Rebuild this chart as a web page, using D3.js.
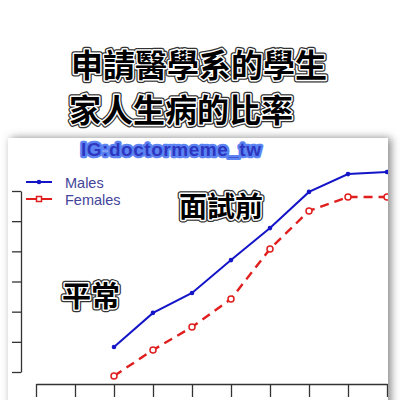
<!DOCTYPE html>
<html>
<head>
<meta charset="utf-8">
<script src="https://cdn.jsdelivr.net/npm/d3@7"></script>
<style>
  body { margin: 0; background: #fff; }
  svg { display: block; }
</style>
</head>
<body>
<div id="chart"></div>
<script>
// data (y axis has no visible labels, values in arbitrary %)
var xTicks = [0, 1, 2, 3, 4, 5, 6, 7, 8, 9];
var yTicks = [10, 20, 30, 40, 50, 60, 70];
var xIdx = [2, 3, 4, 5, 6, 7, 8, 9];
var males = [18.3, 29.6, 36.2, 47.1, 57.7, 69.7, 75.6, 76.3];
var females = [8.7, 17.3, 24.9, 34.2, 50.8, 63.4, 68.0, 68.0];
var titleLines = ["申請醫學系的學生", "家人生病的比率"];
var seriesNames = ["Males", "Females"];

var width = 400, height = 400;

var svg = d3.select("#chart")
  .append("svg")
  .attr("width", width)
  .attr("height", height);

var defs = svg.append("defs");
defs.append("filter")
  .attr("id", "shadow")
  .attr("x", "-10%").attr("y", "-10%")
  .attr("width", "130%").attr("height", "130%")
  .append("feDropShadow")
  .attr("dx", 3).attr("dy", 0)
  .attr("stdDeviation", 4)
  .attr("flood-color", "#666")
  .attr("flood-opacity", 0.8);
defs.append("clipPath")
  .attr("id", "cardclip")
  .append("rect")
  .attr("x", 8).attr("y", 138)
  .attr("width", 380).attr("height", 280);

// outlined meme text: dark outer ring, white ring, black fill
function memeText(g, txt, x, y, size) {
  [["#333", 5.5], ["#fff", 3]].forEach(function(s) {
    g.append("text")
      .attr("x", x).attr("y", y)
      .style("font-family", "'Noto Sans CJK TC', 'Noto Sans CJK SC', sans-serif")
      .style("font-weight", 700)
      .style("font-size", size + "px")
      .attr("fill", "none")
      .attr("stroke", s[0])
      .attr("stroke-width", s[1])
      .attr("stroke-linejoin", "round")
      .text(txt);
  });
  g.append("text")
    .attr("x", x).attr("y", y)
    .style("font-family", "'Noto Sans CJK TC', 'Noto Sans CJK SC', sans-serif")
    .style("font-weight", 700)
    .style("font-size", size + "px")
    .attr("fill", "#000")
    .text(txt);
}

// screenshot card
svg.append("rect")
  .attr("x", 8).attr("y", 138)
  .attr("width", 380).attr("height", 280)
  .attr("fill", "#fff")
  .attr("filter", "url(#shadow)");

var card = svg.append("g").attr("clip-path", "url(#cardclip)");

var x = d3.scaleLinear().domain([0, 9]).range([36, 387]);
var y = d3.scaleLinear().domain([10, 70]).range([372, 191]);

card.append("g")
  .attr("transform", "translate(21,0)")
  .call(d3.axisLeft(y).tickValues(yTicks).tickSize(9).tickSizeOuter(0).tickFormat(""))
  .call(function(g) { g.selectAll("line, path").attr("stroke", "#333").attr("stroke-width", 1.3); });

card.append("g")
  .attr("transform", "translate(0,384)")
  .call(d3.axisBottom(x).tickValues(xTicks).tickSize(13).tickSizeOuter(0).tickFormat(""))
  .call(function(g) { g.selectAll("line, path").attr("stroke", "#333").attr("stroke-width", 1.3); });

var line = d3.line()
  .x(function(d) { return x(d[0]); })
  .y(function(d) { return y(d[1]); });

var mData = xIdx.map(function(v, i) { return [v, males[i]]; });
var fData = xIdx.map(function(v, i) { return [v, females[i]]; });

card.append("path")
  .datum(mData)
  .attr("d", line)
  .attr("fill", "none")
  .attr("stroke", "#1515c8")
  .attr("stroke-width", 2);
card.selectAll(".mdot")
  .data(mData)
  .enter().append("circle")
  .attr("class", "mdot")
  .attr("cx", function(d) { return x(d[0]); })
  .attr("cy", function(d) { return y(d[1]); })
  .attr("r", 2.3)
  .attr("fill", "#1515c8");

card.append("path")
  .datum(fData)
  .attr("d", line)
  .attr("fill", "none")
  .attr("stroke", "#e01e1e")
  .attr("stroke-width", 2.4)
  .attr("stroke-dasharray", "9,6");
card.selectAll(".fdot")
  .data(fData)
  .enter().append("circle")
  .attr("class", "fdot")
  .attr("cx", function(d) { return x(d[0]); })
  .attr("cy", function(d) { return y(d[1]); })
  .attr("r", 3)
  .attr("fill", "#fff")
  .attr("stroke", "#e01e1e")
  .attr("stroke-width", 1.5);

// legend
var legend = card.append("g");
[["#1515c8", null], ["#e01e1e", "9,6"]].forEach(function(s, i) {
  var ly = 182 + i * 17;
  legend.append("line")
    .attr("x1", 26).attr("x2", 52)
    .attr("y1", ly).attr("y2", ly)
    .attr("stroke", s[0]).attr("stroke-width", 2);
  if (i == 0) {
    legend.append("circle").attr("cx", 39).attr("cy", ly).attr("r", 2.3).attr("fill", s[0]);
  } else {
    legend.append("rect").attr("x", 36.5).attr("y", ly - 2.5).attr("width", 5).attr("height", 5)
      .attr("fill", "#fff").attr("stroke", s[0]).attr("stroke-width", 1.5);
  }
  legend.append("text")
    .attr("x", 65).attr("y", ly + 6)
    .style("font-family", "Arial, 'Liberation Sans', sans-serif")
    .style("font-size", "14.5px")
    .attr("fill", "#44449a")
    .text(seriesNames[i]);
});

// watermark
var wm = card.append("g");
wm.append("text")
  .attr("x", 81).attr("y", 156)
  .attr("textLength", 180)
  .style("font-family", "Arial, 'Liberation Sans', sans-serif")
  .style("font-weight", "bold")
  .style("font-size", "19px")
  .attr("fill", "none")
  .attr("stroke", "#5b84f2")
  .attr("stroke-width", 4.5)
  .attr("stroke-linejoin", "round")
  .text("IG:doctormeme_tw");
wm.append("text")
  .attr("x", 81).attr("y", 156)
  .attr("textLength", 180)
  .style("font-family", "Arial, 'Liberation Sans', sans-serif")
  .style("font-weight", "bold")
  .style("font-size", "19px")
  .attr("fill", "#2d36c0")
  .text("IG:doctormeme_tw");

// annotations and title
var ann = svg.append("g");
memeText(ann, "面試前", 179, 217, 28);
memeText(ann, "平常", 62, 307, 29);

var title = svg.append("g");
titleLines.forEach(function(t, i) {
  memeText(title, t, i == 0 ? 71 : 69, 77 + i * 45, 32);
});
</script>
</body>
</html>
